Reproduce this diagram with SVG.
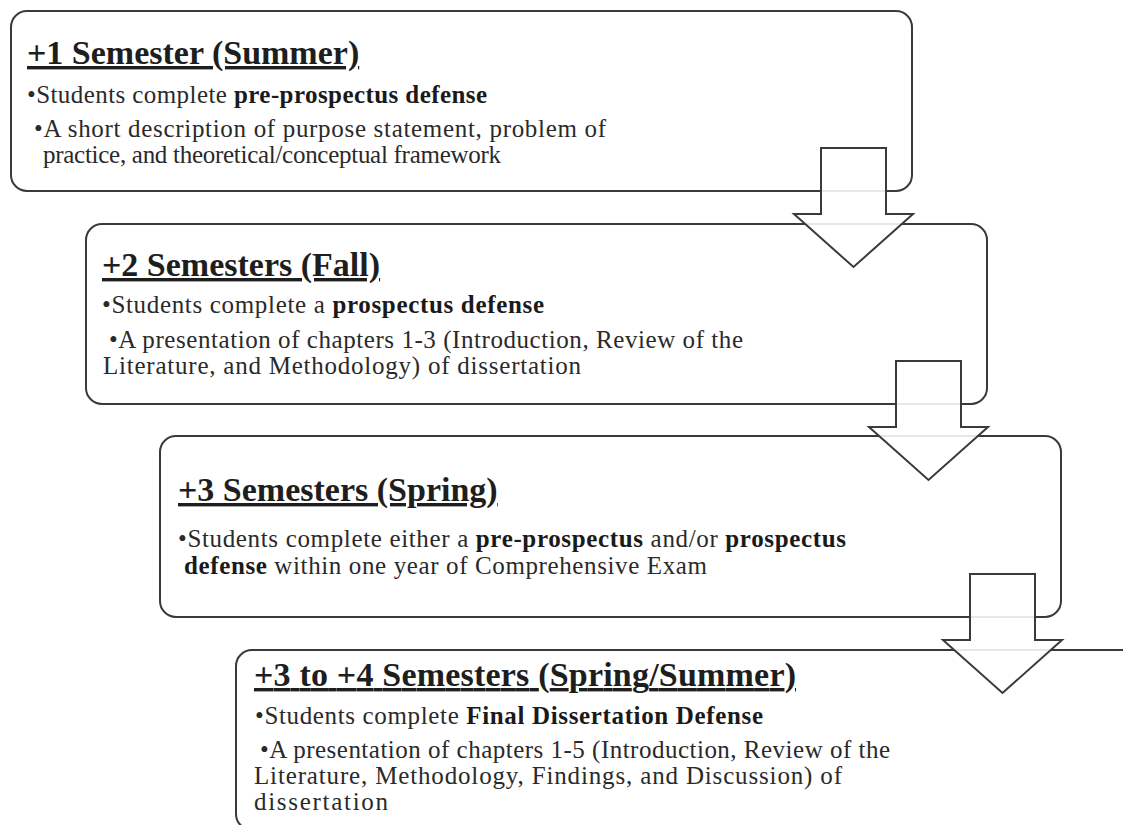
<svg xmlns="http://www.w3.org/2000/svg" width="1123" height="825" viewBox="0 0 1123 825">
  <style>
    .box { fill: #ffffff; stroke: #3a3a3a; stroke-width: 2; }
    .arrow { fill: #ffffff; fill-opacity: 0.88; stroke: #3a3a3a; stroke-width: 2; stroke-linejoin: miter; }
    .title { font-family: "Liberation Serif", "DejaVu Serif", serif; font-size: 34px; font-weight: bold; fill: #1e1e1e; text-decoration: underline; }
    .body { font-family: "Liberation Serif", "DejaVu Serif", serif; font-size: 25px; fill: #2a2a2a; }
    .b { font-weight: bold; fill: #1a1a1a; }
  </style>
  <rect width="1123" height="825" fill="#ffffff"/>

  <g id="node1">
    <rect class="box" x="11" y="11" width="901" height="180" rx="16"/>
    <text class="title" x="27" y="64">+1 Semester (Summer)</text>
    <text class="body" x="27" y="103" textLength="460">•Students complete <tspan class="b">pre-prospectus defense</tspan></text>
    <text class="body" x="34" y="137" textLength="572">•A short description of purpose statement, problem of</text>
    <text class="body" x="43" y="163" textLength="458">practice, and theoretical/conceptual framework</text>
  </g>

  <g id="node2">
    <rect class="box" x="86" y="224" width="901" height="180" rx="16"/>
    <text class="title" x="102" y="276">+2 Semesters (Fall)</text>
    <text class="body" x="102" y="313" textLength="442">•Students complete a <tspan class="b">prospectus defense</tspan></text>
    <text class="body" x="109" y="348" textLength="634">•A presentation of chapters 1-3 (Introduction, Review of the</text>
    <text class="body" x="103" y="374" textLength="478">Literature, and Methodology) of dissertation</text>
  </g>

  <g id="node3">
    <rect class="box" x="160" y="436" width="901" height="181" rx="16"/>
    <text class="title" x="178" y="501">+3 Semesters (Spring)</text>
    <text class="body" x="178" y="547" textLength="668">•Students complete either a <tspan class="b">pre-prospectus</tspan> and/or <tspan class="b">prospectus</tspan></text>
    <text class="body" x="184" y="574" textLength="523"><tspan class="b">defense</tspan> within one year of Comprehensive Exam</text>
  </g>

  <g id="node4">
    <rect class="box" x="236" y="650" width="901" height="180" rx="16"/>
    <text class="title" x="254" y="686" textLength="542">+3 to +4 Semesters (Spring/Summer)</text>
    <text class="body" x="255" y="724" textLength="508">•Students complete <tspan class="b">Final Dissertation Defense</tspan></text>
    <text class="body" x="260" y="758" textLength="630">•A presentation of chapters 1-5 (Introduction, Review of the</text>
    <text class="body" x="254" y="784" textLength="588">Literature, Methodology, Findings, and Discussion) of</text>
    <text class="body" x="254" y="810" textLength="134">dissertation</text>
  </g>

  <g id="connectors">
    <polygon class="arrow" points="821,148 886,148 886,214 913,214 853.5,267 794,214 821,214"/>
    <polygon class="arrow" points="896,361 961,361 961,427 988,427 928.5,480 869,427 896,427"/>
    <polygon class="arrow" points="970,574 1035,574 1035,640 1062,640 1002.5,693 943,640 970,640"/>
  </g>
</svg>
